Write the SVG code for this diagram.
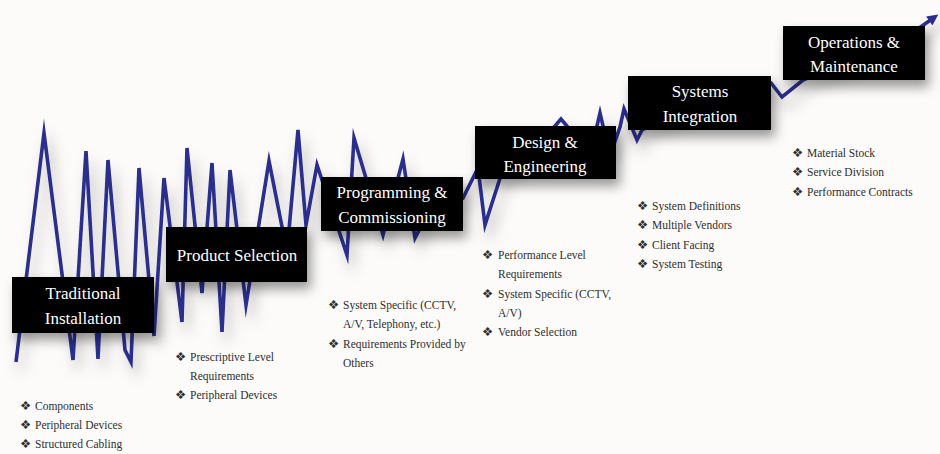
<svg xmlns="http://www.w3.org/2000/svg" width="940" height="454" viewBox="0 0 940 454">
  <defs>
    <filter id="boxShadow" x="-20%" y="-40%" width="140%" height="200%">
      <feDropShadow dx="4" dy="7" stdDeviation="6" flood-color="#000" flood-opacity="0.4"/>
    </filter>
    <filter id="lineShadow" x="-10%" y="-20%" width="120%" height="150%">
      <feDropShadow dx="5" dy="10" stdDeviation="7" flood-color="#000" flood-opacity="0.26"/>
    </filter>
    <marker id="arrow" viewBox="0 0 10 10" refX="3" refY="5" markerWidth="12" markerHeight="11" markerUnits="userSpaceOnUse" orient="auto">
      <path d="M0,0 L10,5 L0,10 z" fill="#2a2d8c"/>
    </marker>
    <style>
      .box { fill: #000; filter: url(#boxShadow); }
      .title { font-family: "Liberation Serif", "DejaVu Serif", serif; font-size: 17px; fill: #fff; text-anchor: middle; }
      .item { font-family: "Liberation Serif", "DejaVu Serif", serif; font-size: 11.5px; fill: #2e2e2e; }
      .bul { font-family: "DejaVu Sans", sans-serif; font-size: 12.5px; fill: #2e2e2e; }
      .trend { fill: none; stroke: #2a2d8c; stroke-width: 3.6; stroke-linejoin: miter; stroke-miterlimit: 10; }
    </style>
  </defs>
  <rect width="940" height="454" fill="#fcfbfa"/>

  <g id="connectors" filter="url(#lineShadow)">
    <polyline class="trend" marker-end="url(#arrow)" points="16,362 44,133 73,360 86,151 98,359 108,160 125,350 131,362 139,168 154,336 164,178 182,322 187,148 202,293 212,163 222,332 230,170 246,305 269,161 287,252 298,130 306,225 317,165 347,255 354,138 383,235 403,159 415,238 440,190 463,198 478,168 485,225 502,172 530,150 555,126 561,119 567,126 582,150 597,126 600,113 603,126 612,150 620,127 624,109 637,140 642,130 700,100 771,83 782,97 803,80 860,55 912,33 932,19"/>
  </g>

  <g id="traditional-installation">
    <rect class="box" x="12" y="277" width="142" height="56"/>
    <text class="title" x="83" y="299">Traditional</text>
    <text class="title" x="83" y="324">Installation</text>
    <text class="item" x="20" y="410"><tspan class="bul">❖</tspan><tspan x="35">Components</tspan></text>
    <text class="item" x="20" y="429"><tspan class="bul">❖</tspan><tspan x="35">Peripheral Devices</tspan></text>
    <text class="item" x="20" y="448"><tspan class="bul">❖</tspan><tspan x="35">Structured Cabling</tspan></text>
  </g>

  <g id="product-selection">
    <rect class="box" x="166" y="227" width="141" height="55"/>
    <text class="title" x="237" y="261">Product Selection</text>
    <text class="item" x="175" y="361"><tspan class="bul">❖</tspan><tspan x="190">Prescriptive Level</tspan></text>
    <text class="item" x="190" y="380">Requirements</text>
    <text class="item" x="175" y="399"><tspan class="bul">❖</tspan><tspan x="190">Peripheral Devices</tspan></text>
  </g>

  <g id="programming-commissioning">
    <rect class="box" x="321" y="177" width="142" height="54"/>
    <text class="title" x="392" y="198">Programming &amp;</text>
    <text class="title" x="392" y="223">Commissioning</text>
    <text class="item" x="328" y="309"><tspan class="bul">❖</tspan><tspan x="343">System Specific (CCTV,</tspan></text>
    <text class="item" x="343" y="328">A/V, Telephony, etc.)</text>
    <text class="item" x="328" y="348"><tspan class="bul">❖</tspan><tspan x="343">Requirements Provided by</tspan></text>
    <text class="item" x="343" y="367">Others</text>
  </g>

  <g id="design-engineering">
    <rect class="box" x="475" y="126" width="141" height="53"/>
    <text class="title" x="545" y="148">Design &amp;</text>
    <text class="title" x="545" y="172">Engineering</text>
    <text class="item" x="482" y="259"><tspan class="bul">❖</tspan><tspan x="498">Performance Level</tspan></text>
    <text class="item" x="498" y="278">Requirements</text>
    <text class="item" x="482" y="298"><tspan class="bul">❖</tspan><tspan x="498">System Specific (CCTV,</tspan></text>
    <text class="item" x="498" y="317">A/V)</text>
    <text class="item" x="482" y="336"><tspan class="bul">❖</tspan><tspan x="498">Vendor Selection</tspan></text>
  </g>

  <g id="systems-integration">
    <rect class="box" x="628" y="76" width="143" height="54"/>
    <text class="title" x="700" y="97">Systems</text>
    <text class="title" x="700" y="122">Integration</text>
    <text class="item" x="637" y="210"><tspan class="bul">❖</tspan><tspan x="652">System Definitions</tspan></text>
    <text class="item" x="637" y="229"><tspan class="bul">❖</tspan><tspan x="652">Multiple Vendors</tspan></text>
    <text class="item" x="637" y="249"><tspan class="bul">❖</tspan><tspan x="652">Client Facing</tspan></text>
    <text class="item" x="637" y="268"><tspan class="bul">❖</tspan><tspan x="652">System Testing</tspan></text>
  </g>

  <g id="operations-maintenance">
    <rect class="box" x="783" y="26" width="142" height="54"/>
    <text class="title" x="854" y="48">Operations &amp;</text>
    <text class="title" x="854" y="72">Maintenance</text>
    <text class="item" x="792" y="157"><tspan class="bul">❖</tspan><tspan x="807">Material Stock</tspan></text>
    <text class="item" x="792" y="176"><tspan class="bul">❖</tspan><tspan x="807">Service Division</tspan></text>
    <text class="item" x="792" y="196"><tspan class="bul">❖</tspan><tspan x="807">Performance Contracts</tspan></text>
  </g>
</svg>
